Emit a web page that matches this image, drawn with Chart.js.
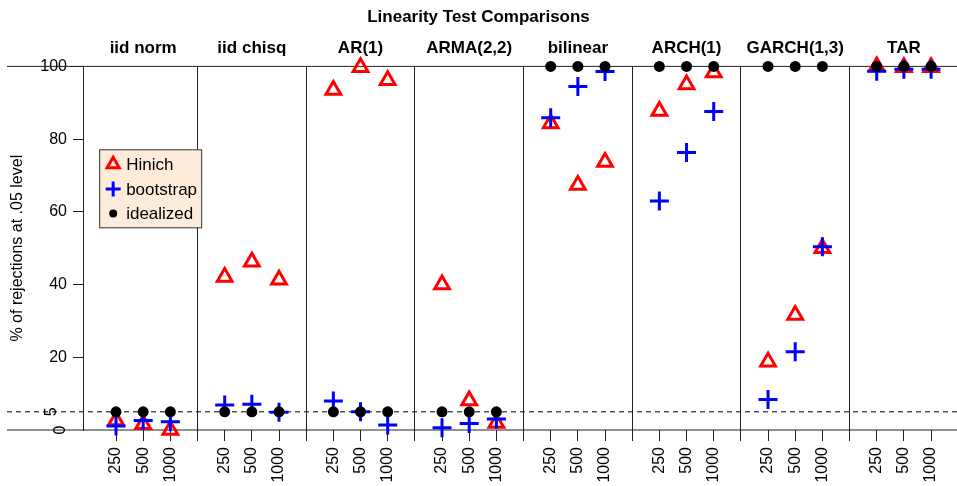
<!DOCTYPE html>
<html>
<head>
<meta charset="utf-8">
<script src="https://cdn.jsdelivr.net/npm/chart.js@4.4.1/dist/chart.umd.min.js"></script>
<style>
  html, body { margin: 0; padding: 0; background: #fff; }
  #wrap { width: 957px; height: 486px; position: relative; }
</style>
</head>
<body>
<div id="wrap"><canvas id="chart_lin"></canvas></div>
<script>
// panels and sample sizes
const panels = ['iid norm', 'iid chisq', 'AR(1)', 'ARMA(2,2)', 'bilinear', 'ARCH(1)', 'GARCH(1,3)', 'TAR'];
const sizes  = ['250', '500', '1000'];

// % of rejections at .05 level, one row per panel (250, 500, 1000)
const hinich    = [[2.6, 1.6, 0.0], [42.1, 46.3, 41.3], [93.5, 99.8, 96.2], [40.0, 8.1, 1.9],
                   [84.3, 67.4, 73.7], [87.7, 95.0, 98.3], [18.8, 31.6, 50.0], [100, 99.8, 99.8]];
const bootstrap = [[1.1, 2.6, 2.3], [6.9, 7.1, 4.9], [8.0, 5.0, 1.4], [0.6, 1.8, 3.0],
                   [85.9, 94.5, 98.6], [63.0, 76.3, 87.6], [8.4, 21.5, 50.4], [98.7, 99.2, 99.2]];
const idealized = [[5, 5, 5], [5, 5, 5], [5, 5, 5], [5, 5, 5],
                   [100, 100, 100], [100, 100, 100], [100, 100, 100], [100, 100, 100]];

const yTicks    = [20, 40, 60, 80, 100];
const yTicksLow = [0, 5];
const refLevel  = 5;

// each panel takes 4 slots on x: 3 sizes + divider
function toPoints(rows) {
  const pts = [];
  rows.forEach(function (row, p) {
    row.forEach(function (v, k) { pts.push({ x: 4 * p + k + 1, y: v }); });
  });
  return pts;
}

const xTickVals = [];
for (let p = 0; p < panels.length; p++) {
  for (let k = 0; k < 4; k++) {
    const v = 4 * p + k + 1;
    if (v < 32) xTickVals.push(v);
  }
}
const panelMids = panels.map(function (n, p) { return 4 * p + 2; });

Chart.defaults.font.family = "'Liberation Sans', Arial, sans-serif";
Chart.defaults.font.size = 16;
Chart.defaults.color = '#000';

function noSidePad(s) {
  s.paddingLeft = 0;
  s.paddingRight = 0;
}

const refLines = {
  id: 'refLines',
  beforeDatasetsDraw(chart) {
    const ctx = chart.ctx, ys = chart.scales.y, area = chart.chartArea;
    ctx.save();
    ctx.strokeStyle = '#222';
    ctx.lineWidth = 1;
    [0, 100].forEach(function (v) {
      const py = ys.getPixelForValue(v);
      ctx.beginPath(); ctx.moveTo(7, py); ctx.lineTo(chart.width, py); ctx.stroke();
    });
    ctx.setLineDash([5, 4]);
    ctx.strokeStyle = '#000';
    const p5 = ys.getPixelForValue(refLevel);
    ctx.beginPath(); ctx.moveTo(7, p5); ctx.lineTo(chart.width, p5); ctx.stroke();
    ctx.setLineDash([]);
    // low tick labels, written along the axis
    ctx.fillStyle = '#000';
    ctx.font = "16px 'Liberation Sans', Arial, sans-serif";
    ctx.textAlign = 'center';
    ctx.textBaseline = 'middle';
    yTicksLow.forEach(function (v, i) {
      ctx.save();
      ctx.translate(area.left - (i === 0 ? 22 : 31), ys.getPixelForValue(v));
      ctx.rotate(-Math.PI / 2);
      ctx.fillText(String(v), 0, 0);
      ctx.restore();
    });
    ctx.restore();
  },
  afterDatasetsDraw(chart) {
    const ctx = chart.ctx, xs = chart.scales.x, ys = chart.scales.y;
    const left = xs.getPixelForValue(0.38), top = ys.getPixelForValue(77.2);
    ctx.save();
    ctx.fillStyle = '#FDECD9';
    ctx.strokeStyle = '#333';
    ctx.lineWidth = 1;
    ctx.fillRect(left, top, 102, 78);
    ctx.strokeRect(left + 0.5, top + 0.5, 102, 78);
    chart.data.datasets.forEach(function (ds, i) {
      const cy = top + 15 + i * 24.6;
      ctx.fillStyle = ds.backgroundColor;
      ctx.strokeStyle = ds.borderColor;
      ctx.lineWidth = ds.borderWidth;
      Chart.helpers.drawPoint(ctx, { pointStyle: ds.pointStyle, rotation: 0, radius: ds.legendRadius, borderWidth: ds.borderWidth }, left + 14, cy);
      ctx.fillStyle = '#000';
      ctx.font = "17px 'Liberation Sans', Arial, sans-serif";
      ctx.textAlign = 'left';
      ctx.textBaseline = 'middle';
      ctx.fillText(ds.label, left + 27, cy + 1);
    });
    ctx.restore();
  }
};

const config = {
  type: 'scatter',
  data: {
    datasets: [{
      label: 'Hinich',
      data: toPoints(hinich),
      pointStyle: 'triangle',
      radius: 8.5,
      legendRadius: 7,
      borderWidth: 3,
      borderColor: '#FF0000',
      backgroundColor: 'rgba(0,0,0,0)',
      clip: false,
      order: 3
    }, {
      label: 'bootstrap',
      data: toPoints(bootstrap),
      pointStyle: 'cross',
      radius: 9.5,
      legendRadius: 7.5,
      borderWidth: 3,
      borderColor: '#0000FF',
      backgroundColor: '#0000FF',
      clip: false,
      order: 2
    }, {
      label: 'idealized',
      data: toPoints(idealized),
      pointStyle: 'circle',
      radius: 5.5,
      legendRadius: 4,
      borderWidth: 0,
      borderColor: '#000',
      backgroundColor: '#000',
      clip: false,
      order: 1
    }]
  },
  options: {
    responsive: true,
    maintainAspectRatio: false,
    animation: false,
    layout: { padding: 0, autoPadding: false },
    plugins: {
      legend: { display: false },
      tooltip: { enabled: false },
      title: {
        display: true,
        text: 'Linearity Test Comparisons',
        font: { size: 17, weight: 'bold' },
        color: '#000',
        padding: { top: 7, bottom: 4 }
      }
    },
    scales: {
      x: {
        type: 'linear',
        position: 'bottom',
        min: -0.215,
        max: 31.955,
        afterBuildTicks: function (s) { s.ticks = xTickVals.map(function (v) { return { value: v }; }); },
        afterFit: function (s) { s.height = 56; noSidePad(s); },
        ticks: {
          autoSkip: false,
          minRotation: 90,
          maxRotation: 90,
          padding: 6,
          callback: function (v) { return v % 4 === 0 ? '' : sizes[(v - 1) % 4]; }
        },
        grid: {
          color: function (c) { return c.tick && c.tick.value % 4 === 0 ? '#222' : 'rgba(0,0,0,0)'; },
          tickColor: '#222',
          tickLength: 11,
          lineWidth: 1
        },
        border: { display: false }
      },
      x2: {
        type: 'linear',
        position: 'top',
        min: -0.215,
        max: 31.955,
        afterBuildTicks: function (s) { s.ticks = panelMids.map(function (v) { return { value: v }; }); },
        afterFit: function (s) { s.height = 35; noSidePad(s); },
        ticks: {
          autoSkip: false,
          maxRotation: 0,
          padding: 8,
          font: { size: 17, weight: 'bold' },
          callback: function (v) { return panels[(v - 2) / 4]; }
        },
        grid: { display: false, drawTicks: false },
        border: { display: false }
      },
      y: {
        min: 0,
        max: 100,
        afterBuildTicks: function (s) { s.ticks = yTicks.map(function (v) { return { value: v }; }); },
        afterFit: function (s) { s.width = 83; },
        ticks: { padding: 6 },
        grid: { drawOnChartArea: false, tickLength: 10, color: '#222' },
        border: { display: true, color: '#222' },
        title: {
          display: true,
          text: '% of rejections at .05 level',
          font: { size: 16 },
          padding: { top: 8, bottom: 0 }
        }
      }
    }
  },
  plugins: [refLines]
};

const chartLin = new Chart(document.getElementById('chart_lin'), config);
</script>
</body>
</html>
